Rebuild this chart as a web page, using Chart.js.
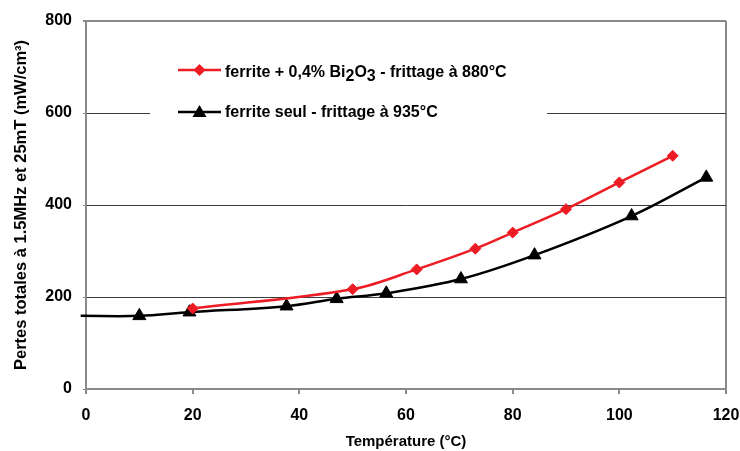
<!DOCTYPE html>
<html>
<head>
<meta charset="utf-8">
<script src="https://cdn.jsdelivr.net/npm/chart.js@4.4.1/dist/chart.umd.min.js"></script>
<style>
  html, body { margin: 0; padding: 0; background: #fff; }
  #wrap { width: 740px; height: 451px; position: relative; }
</style>
</head>
<body>
<div id="wrap"><canvas id="pertes"></canvas></div>
<script>
// temperature (°C) and losses (mW/cm3)
const bi2o3Temps = [20, 50, 62, 73, 80, 90, 100, 110];
const bi2o3Losses = [175, 217, 260, 305, 340, 391, 449, 507];

const seulTemps = [-1, 10, 19.4, 37.6, 47, 56.3, 70.3, 84.1, 102.3, 116.3];
const seulLosses = [159, 159, 167, 180, 196, 208, 239, 291, 376, 460];

const xTicks = [0, 20, 40, 60, 80, 100, 120];
const yTicks = [0, 200, 400, 600, 800];

const RED = "#ed1c24";
const AXIS = "#8a8a8a";
const GRID = "#3c3c3c";
const FONT = "'Liberation Sans', Arial, sans-serif";

const toPoints = (xs, ys) => xs.map((x, i) => ({ x, y: ys[i] }));

// legend box drawn by hand (Bi2O3 needs subscripts)
const legendBox = {
  id: "legendBox",
  afterDraw(chart) {
    const ctx = chart.ctx;
    ctx.save();
    ctx.fillStyle = "#fff";
    ctx.fillRect(150, 48, 397, 80);

    ctx.lineWidth = 2.5;
    ctx.strokeStyle = RED;
    ctx.beginPath();
    ctx.moveTo(178, 70);
    ctx.lineTo(221, 70);
    ctx.stroke();
    ctx.fillStyle = RED;
    ctx.beginPath();
    ctx.moveTo(199.5 - 6, 70);
    ctx.lineTo(199.5, 64);
    ctx.lineTo(199.5 + 6, 70);
    ctx.lineTo(199.5, 76);
    ctx.closePath();
    ctx.fill();

    ctx.strokeStyle = "#000";
    ctx.beginPath();
    ctx.moveTo(178, 112);
    ctx.lineTo(221, 112);
    ctx.stroke();
    ctx.fillStyle = "#000";
    ctx.beginPath();
    ctx.moveTo(199.5, 105);
    ctx.lineTo(199.5 + 7, 117);
    ctx.lineTo(199.5 - 7, 117);
    ctx.closePath();
    ctx.fill();

    ctx.font = "bold 16px " + FONT;
    ctx.textBaseline = "alphabetic";
    ctx.textAlign = "left";
    ctx.fillStyle = "#000";
    const parts = [
      ["ferrite + 0,4% Bi", 0],
      ["2", 4],
      ["O", 0],
      ["3", 4],
      [" - frittage à 880°C", 0],
    ];
    let x = 225;
    parts.forEach(([txt, dy]) => {
      ctx.fillText(txt, x, 77 + dy);
      x += ctx.measureText(txt).width;
    });
    ctx.fillText("ferrite seul - frittage à 935°C", 225, 117);
    ctx.restore();
  },
};

new Chart(document.getElementById("pertes"), {
  type: "line",
  data: {
    datasets: [
      {
        label: "ferrite + 0,4% Bi2O3 - frittage à 880°C",
        data: toPoints(bi2o3Temps, bi2o3Losses),
        borderColor: RED,
        backgroundColor: RED,
        borderWidth: 2.5,
        pointStyle: "rectRot",
        pointRadius: 5.5,
        pointBorderWidth: 1,
        tension: 0.35,
        clip: false,
      },
      {
        label: "ferrite seul - frittage à 935°C",
        data: toPoints(seulTemps, seulLosses),
        borderColor: "#000",
        backgroundColor: "#000",
        borderWidth: 2.5,
        pointStyle: "triangle",
        pointRadius: (c) => (c.dataIndex === 0 ? 0 : 7.5),
        pointBorderWidth: 1,
        tension: 0.35,
        clip: false,
      },
    ],
  },
  options: {
    responsive: true,
    maintainAspectRatio: false,
    animation: false,
    layout: { padding: { top: 21, right: 14, left: 0, bottom: 0 } },
    plugins: {
      legend: { display: false },
      tooltip: { enabled: false },
    },
    scales: {
      x: {
        type: "linear",
        min: 0,
        max: 120,
        afterBuildTicks(scale) {
          scale.ticks = xTicks.map((v) => ({ value: v }));
        },
        afterFit(scale) {
          scale.height = 62;
          scale.paddingLeft = 0;
          scale.paddingRight = 0;
        },
        border: { color: AXIS, width: 2 },
        grid: {
          color: (c) => (c.tick && c.tick.value === 120 ? AXIS : "rgba(0,0,0,0)"),
          lineWidth: 2,
          tickColor: AXIS,
          tickLength: 5,
        },
        ticks: {
          color: "#000",
          padding: 12,
          maxRotation: 0,
          font: { family: FONT, size: 16, weight: "bold" },
        },
        title: {
          display: true,
          text: "Température (°C)",
          color: "#000",
          padding: { top: 0, bottom: 0 },
          font: { family: FONT, size: 15, weight: "bold" },
        },
      },
      y: {
        min: 0,
        max: 800,
        afterBuildTicks(scale) {
          scale.ticks = yTicks.map((v) => ({ value: v }));
        },
        afterFit(scale) {
          scale.width = 86;
          scale.paddingTop = 0;
          scale.paddingBottom = 0;
        },
        border: { color: AXIS, width: 2 },
        grid: {
          color: (c) => {
            if (!c.tick) return GRID;
            if (c.tick.value === 800) return AXIS;
            if (c.tick.value === 0) return "rgba(0,0,0,0)";
            return GRID;
          },
          lineWidth: (c) => (c.tick && c.tick.value === 800 ? 2 : 1),
          tickColor: AXIS,
          tickLength: 3,
        },
        ticks: {
          color: "#000",
          padding: 11,
          font: { family: FONT, size: 16, weight: "bold" },
        },
        title: {
          display: true,
          text: "Pertes totales à 1.5MHz et 25mT (mW/cm³)",
          color: "#000",
          padding: { top: 12, bottom: 0 },
          font: { family: FONT, size: 16.5, weight: "bold" },
        },
      },
    },
  },
  plugins: [legendBox],
});
</script>
</body>
</html>
